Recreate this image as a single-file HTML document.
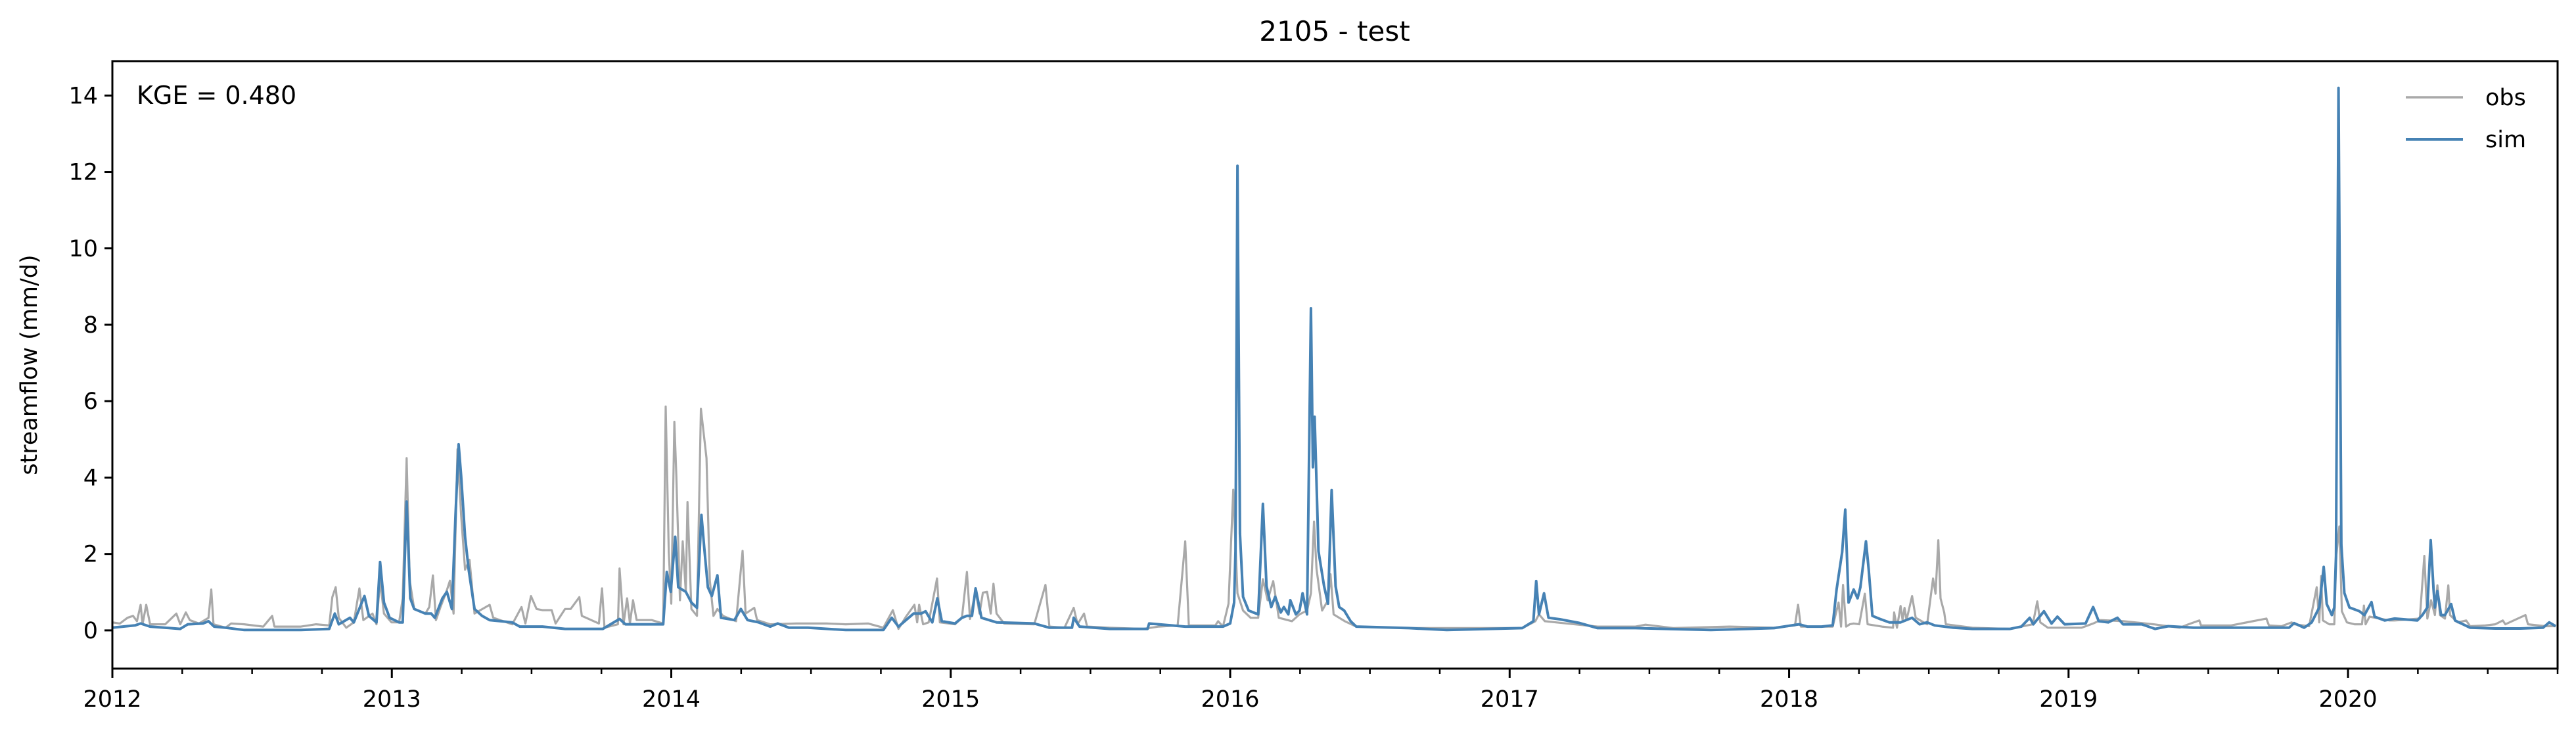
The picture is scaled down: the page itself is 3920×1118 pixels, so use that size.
<!DOCTYPE html>
<html><head><meta charset="utf-8"><style>
html,body{margin:0;padding:0;background:#fff;}
svg{display:block;font-family:"DejaVu Sans","Liberation Sans",sans-serif;}
</style></head><body>
<svg id="chart" width="3920" height="1118" viewBox="0 0 3920 1118" xmlns="http://www.w3.org/2000/svg">
<rect x="0" y="0" width="3920" height="1118" fill="#fff"/>
<text x="2031" y="62" font-size="42" text-anchor="middle" fill="#000">2105 - test</text>
<text x="0" y="0" font-size="35" text-anchor="middle" fill="#000" transform="translate(56,555) rotate(-90)">streamflow (mm/d)</text>
<g id="plot"></g>
<g id="axes"></g>
<text x="208" y="158" font-size="38" fill="#000">KGE = 0.480</text>
<g>
<line x1="3661" y1="148" x2="3748" y2="148" stroke="#a9a9a9" stroke-width="3.5"/>
<text x="3782" y="160" font-size="35" fill="#000">obs</text>
<line x1="3661" y1="212" x2="3748" y2="212" stroke="#4682b4" stroke-width="4"/>
<text x="3782" y="224" font-size="35" fill="#000">sim</text>
</g>
</svg>
<script>
const obsT=[2012.000,2012.027,2012.054,2012.074,2012.088,2012.101,2012.108,2012.121,2012.135,2012.189,2012.229,2012.243,2012.263,2012.277,2012.310,2012.344,2012.354,2012.362,2012.405,2012.425,2012.472,2012.540,2012.572,2012.580,2012.675,2012.729,2012.776,2012.787,2012.799,2012.810,2012.837,2012.864,2012.884,2012.898,2012.931,2012.945,2012.958,2012.972,2012.999,2013.026,2013.039,2013.053,2013.064,2013.080,2013.120,2013.134,2013.147,2013.158,2013.174,2013.195,2013.208,2013.221,2013.235,2013.248,2013.262,2013.278,2013.296,2013.350,2013.363,2013.431,2013.464,2013.478,2013.498,2013.518,2013.539,2013.572,2013.586,2013.620,2013.640,2013.671,2013.680,2013.741,2013.752,2013.761,2013.809,2013.815,2013.829,2013.842,2013.852,2013.863,2013.876,2013.930,2013.971,2013.980,2013.991,2014.000,2014.011,2014.018,2014.031,2014.041,2014.052,2014.058,2014.072,2014.092,2014.106,2014.126,2014.138,2014.151,2014.165,2014.185,2014.232,2014.255,2014.266,2014.297,2014.307,2014.354,2014.448,2014.556,2014.624,2014.705,2014.759,2014.793,2014.813,2014.840,2014.870,2014.880,2014.887,2014.901,2014.921,2014.951,2014.961,2015.015,2015.040,2015.058,2015.069,2015.089,2015.103,2015.115,2015.130,2015.143,2015.153,2015.164,2015.191,2015.299,2015.339,2015.353,2015.407,2015.440,2015.454,2015.477,2015.488,2015.569,2015.690,2015.744,2015.812,2015.839,2015.852,2015.947,2015.957,2015.974,2015.994,2016.011,2016.026,2016.046,2016.073,2016.100,2016.117,2016.134,2016.154,2016.174,2016.221,2016.248,2016.275,2016.289,2016.300,2016.309,2016.329,2016.350,2016.359,2016.370,2016.410,2016.451,2016.640,2017.045,2017.092,2017.105,2017.126,2017.180,2017.315,2017.450,2017.486,2017.585,2017.787,2017.946,2018.021,2018.032,2018.042,2018.116,2018.156,2018.177,2018.186,2018.193,2018.204,2018.217,2018.231,2018.251,2018.271,2018.281,2018.332,2018.372,2018.376,2018.386,2018.399,2018.406,2018.413,2018.420,2018.440,2018.453,2018.494,2018.515,2018.524,2018.534,2018.542,2018.555,2018.561,2018.656,2018.791,2018.872,2018.888,2018.899,2018.926,2019.047,2019.088,2019.115,2019.196,2019.304,2019.398,2019.429,2019.468,2019.474,2019.582,2019.708,2019.717,2019.762,2019.798,2019.807,2019.861,2019.888,2019.897,2019.904,2019.910,2019.933,2019.951,2019.958,2019.969,2019.978,2019.996,2020.023,2020.050,2020.057,2020.063,2020.077,2020.149,2020.167,2020.257,2020.273,2020.284,2020.297,2020.311,2020.320,2020.329,2020.347,2020.359,2020.365,2020.392,2020.423,2020.437,2020.491,2020.527,2020.554,2020.563,2020.635,2020.644,2020.707,2020.743];
const obsV=[.21,.18,.33,.38,.24,.67,.16,.67,.16,.16,.44,.16,.47,.27,.18,.33,1.07,.16,.07,.18,.16,.10,.38,.10,.10,.16,.13,.87,1.13,.33,.07,.21,1.10,.27,.44,.16,1.30,.44,.21,.21,.84,4.51,1.30,.56,.44,.61,1.44,.27,.61,1.01,1.30,.44,4.74,3.02,1.59,1.85,.44,.67,.33,.16,.61,.18,.90,.56,.53,.53,.18,.56,.56,.87,.38,.18,1.10,.07,.16,1.62,.16,.84,.18,.79,.27,.27,.18,5.86,2.05,.70,5.46,4.05,.79,2.33,1.01,3.36,.56,.38,5.80,4.51,1.30,.38,.56,.38,.24,2.08,.44,.59,.27,.16,.18,.18,.16,.18,.07,.53,.04,.36,.67,.21,.67,.16,.21,1.36,.21,.16,.33,1.53,.30,1.04,.44,.99,1.01,.44,1.22,.44,.18,.16,1.19,.10,.07,.59,.16,.44,.10,.07,.04,.10,.13,2.33,.13,.13,.24,.10,.70,3.68,.97,.52,.33,.33,1.34,.79,1.29,.33,.24,.42,.52,.97,2.85,1.61,.52,.79,1.47,.42,.24,.10,.06,.06,.24,.42,.24,.20,.10,.10,.15,.06,.10,.07,.13,.67,.10,.10,.10,.73,.10,1.19,.10,.16,.18,.16,.96,.16,.10,.07,.47,.07,.64,.27,.59,.27,.90,.33,.16,1.36,.96,2.36,.84,.47,.16,.07,.04,.16,.76,.21,.07,.07,.18,.27,.24,.16,.07,.16,.26,.13,.13,.31,.13,.11,.21,.16,.11,1.13,.21,1.42,.26,.16,.16,1.95,2.72,.50,.21,.16,.16,.65,.16,.36,.26,.26,.31,1.95,.31,.79,.40,1.18,.40,.31,1.18,.40,.21,.26,.11,.13,.16,.26,.16,.40,.16,.11,.11];
const simT=[2012.000,2012.081,2012.101,2012.135,2012.243,2012.270,2012.324,2012.344,2012.364,2012.405,2012.472,2012.675,2012.776,2012.796,2012.810,2012.850,2012.864,2012.902,2012.918,2012.945,2012.958,2012.972,2012.992,2013.026,2013.039,2013.053,2013.066,2013.080,2013.120,2013.141,2013.154,2013.181,2013.197,2013.215,2013.228,2013.239,2013.248,2013.262,2013.275,2013.296,2013.323,2013.350,2013.431,2013.458,2013.539,2013.620,2013.755,2013.815,2013.836,2013.890,2013.971,2013.984,2013.998,2014.014,2014.025,2014.052,2014.072,2014.092,2014.108,2014.118,2014.131,2014.145,2014.165,2014.178,2014.226,2014.249,2014.273,2014.313,2014.354,2014.381,2014.421,2014.489,2014.624,2014.759,2014.789,2014.813,2014.867,2014.894,2014.910,2014.934,2014.952,2014.968,2015.015,2015.040,2015.058,2015.076,2015.089,2015.110,2015.137,2015.164,2015.299,2015.353,2015.434,2015.440,2015.461,2015.569,2015.704,2015.710,2015.839,2015.974,2016.000,2016.014,2016.019,2016.026,2016.035,2016.046,2016.066,2016.100,2016.117,2016.130,2016.147,2016.161,2016.181,2016.192,2016.208,2016.215,2016.235,2016.248,2016.259,2016.275,2016.289,2016.296,2016.302,2016.316,2016.336,2016.350,2016.363,2016.377,2016.390,2016.408,2016.431,2016.451,2016.640,2016.775,2017.045,2017.085,2017.095,2017.105,2017.123,2017.139,2017.180,2017.247,2017.315,2017.450,2017.720,2017.946,2017.981,2018.035,2018.065,2018.116,2018.156,2018.170,2018.190,2018.201,2018.213,2018.231,2018.245,2018.255,2018.275,2018.285,2018.298,2018.325,2018.359,2018.399,2018.440,2018.467,2018.494,2018.521,2018.588,2018.656,2018.791,2018.831,2018.861,2018.874,2018.912,2018.939,2018.960,2018.986,2019.061,2019.088,2019.108,2019.142,2019.175,2019.195,2019.262,2019.310,2019.357,2019.447,2019.627,2019.789,2019.807,2019.843,2019.870,2019.897,2019.913,2019.924,2019.942,2019.951,2019.957,2019.966,2019.976,2019.987,2020.005,2020.041,2020.059,2020.084,2020.095,2020.131,2020.167,2020.248,2020.266,2020.284,2020.296,2020.306,2020.311,2020.320,2020.333,2020.347,2020.369,2020.383,2020.437,2020.527,2020.617,2020.698,2020.720,2020.743];
const simV=[.07,.13,.18,.10,.04,.16,.18,.24,.10,.07,.01,.01,.04,.44,.16,.33,.21,.90,.38,.21,1.79,.73,.33,.21,.21,3.37,.84,.56,.44,.44,.33,.84,1.01,.56,3.02,4.87,4.05,2.45,1.59,.56,.38,.27,.21,.10,.10,.04,.04,.30,.16,.16,.16,1.53,1.01,2.45,1.13,1.01,.73,.59,3.02,2.16,1.13,.90,1.44,.33,.27,.56,.27,.21,.10,.18,.07,.07,.01,.01,.33,.10,.44,.44,.50,.21,.84,.24,.18,.33,.38,.38,1.10,.33,.27,.21,.18,.07,.07,.33,.10,.04,.04,.18,.10,.10,.18,.73,2.07,12.16,2.53,.88,.52,.42,3.31,1.16,.61,.88,.47,.61,.42,.79,.42,.52,.97,.42,8.43,4.27,5.59,2.07,1.16,.70,3.67,1.16,.61,.52,.24,.10,.06,.01,.06,.24,1.29,.42,.97,.33,.29,.20,.06,.06,.01,.06,.10,.16,.10,.10,.13,1.07,2.05,3.16,.73,1.07,.84,1.13,2.33,1.59,.38,.30,.21,.21,.33,.16,.21,.13,.07,.04,.04,.10,.33,.16,.50,.18,.36,.16,.18,.61,.24,.21,.33,.16,.16,.04,.11,.07,.07,.07,.19,.07,.21,.60,1.66,.69,.40,.60,1.95,14.20,2.24,.98,.60,.50,.40,.74,.36,.26,.31,.26,.40,.60,2.36,1.08,.60,1.03,.40,.40,.69,.26,.07,.05,.05,.07,.21,.11];
const yTicks=[0,2,4,6,8,10,12,14];
const xYears=[2012,2013,2014,2015,2016,2017,2018,2019,2020];

const L=171,R=3892,T=93,B=1017,X0=2012,X1=2020.75,Y0=-1,Y1=14.9;
const NS='http://www.w3.org/2000/svg';
function sx(t){return L+(t-X0)/(X1-X0)*(R-L);}
function sy(v){return B-(v-Y0)/(Y1-Y0)*(B-T);}
function mk(tag,attrs,parent){const e=document.createElementNS(NS,tag);for(const k in attrs)e.setAttribute(k,attrs[k]);parent.appendChild(e);return e;}
const plot=document.getElementById('plot');
const axes=document.getElementById('axes');
const clip=mk('clipPath',{id:'clp'},plot);
mk('rect',{x:L,y:T,width:R-L,height:B-T},clip);
function series(ts,vs,color,w,name){
  let d='';
  for(let i=0;i<ts.length;i++){d+=(i?'L':'M')+sx(ts[i]).toFixed(1)+' '+sy(vs[i]).toFixed(1);}
  const p=mk('path',{d:d,fill:'none',stroke:color,'stroke-width':w,'stroke-linejoin':'round','clip-path':'url(#clp)'},plot);
  
  
}
series(obsT,obsV,'#a9a9a9',3.2,'obs-line');
series(simT,simV,'#4682b4',4,'sim-line');
const frame=mk('rect',{x:L,y:T,width:R-L,height:B-T,fill:'none',stroke:'#000','stroke-width':3},axes);


for(const v of yTicks){
  const y=sy(v);
  const tk=mk('line',{x1:L-12,y1:y,x2:L,y2:y,stroke:'#000','stroke-width':3},axes);
  
  
  const lb=mk('text',{x:L-22,y:y+12,'font-size':35,'text-anchor':'end',fill:'#000'},axes);
  lb.textContent=v;
  
  
}
for(let q=0;q<=35;q++){
  const t=X0+q*0.25; if(t>X1+1e-6)break;
  const major=(q%4===0);
  const x=sx(t);
  const tk=mk('line',{x1:x,y1:B,x2:x,y2:B+(major?14:8),stroke:'#000','stroke-width':major?3:2.5},axes);
  
  
}
for(const yr of xYears){
  const lb=mk('text',{x:sx(yr),y:1075,'font-size':35,'text-anchor':'middle',fill:'#000'},axes);
  lb.textContent=yr;
  
  
}
</script>
</body></html>
